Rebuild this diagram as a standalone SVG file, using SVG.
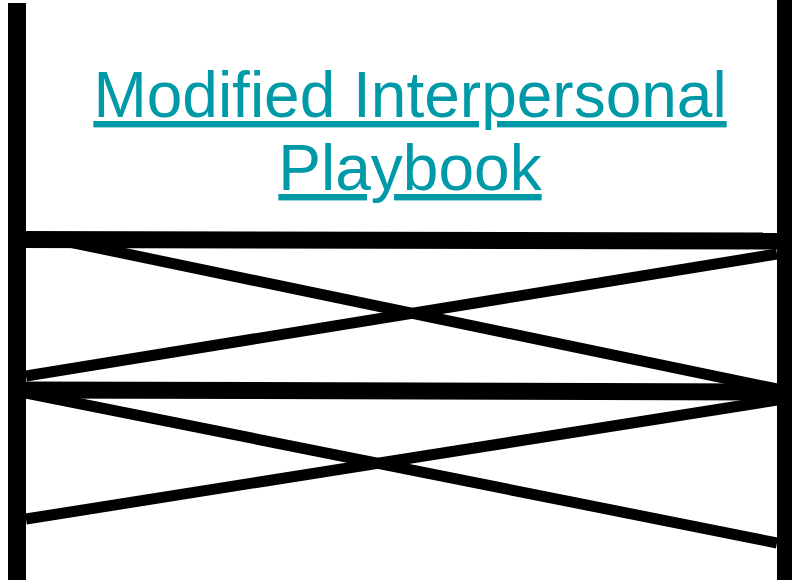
<svg xmlns="http://www.w3.org/2000/svg" width="792" height="582" viewBox="0 0 792 582">
  <style>
    .post { fill: #000; }
    .rail { stroke: #000; stroke-width: 17; fill: none; }
    .brace { stroke: #000; stroke-width: 11; fill: none; }
    .title { font-family: "Liberation Sans", Arial, sans-serif; font-size: 64px; fill: #0099a8; text-anchor: middle; text-decoration: underline; }
  </style>
  <rect width="792" height="582" fill="#fff"/>

  <g id="title">
    <text class="title" x="410" y="117">Modified Interpersonal</text>
    <text class="title" x="410" y="190">Playbook</text>
  </g>

  <!-- cross bracing between the posts -->
  <g id="connectors">
    <line class="brace" x1="50" y1="238" x2="777" y2="389"/>
    <line class="brace" x1="26" y1="376" x2="777" y2="254"/>
    <line class="brace" x1="26" y1="393" x2="777" y2="543"/>
    <line class="brace" x1="26" y1="519" x2="777" y2="400"/>
    <line class="rail" x1="17" y1="239.5" x2="785" y2="241"/>
    <line class="rail" x1="17" y1="390" x2="785" y2="392"/>
  </g>

  <g id="left-post">
    <rect class="post" x="8" y="3" width="18" height="577"/>
  </g>
  <g id="right-post">
    <rect class="post" x="777" y="0" width="18" height="580"/>
  </g>
</svg>
